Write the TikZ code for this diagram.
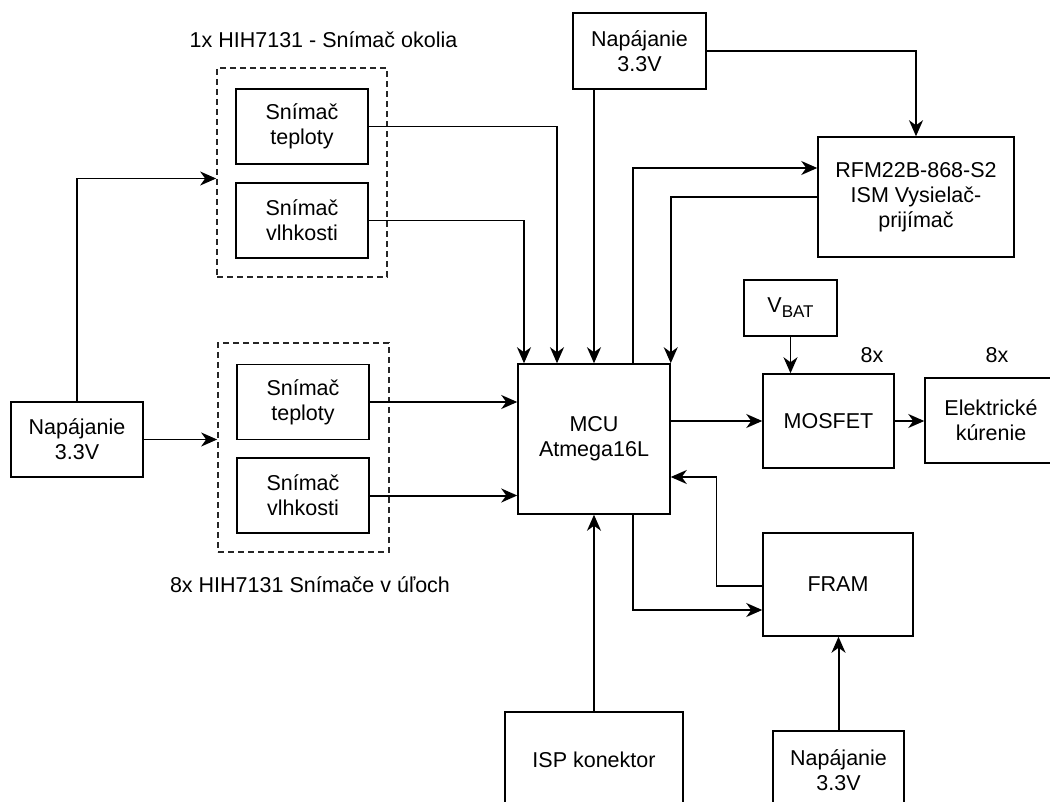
\documentclass[tikz,border=0pt]{standalone}
\usepackage{fontspec}
\setmainfont{Liberation Sans}
\usetikzlibrary{arrows.meta}
\tikzset{
  blok/.style = {draw=black, line width=1.5pt, rectangle, align=center,
    inner sep=0pt, font=\fontsize{21.5}{25}\selectfont},
  blok_s/.style = {blok, minimum width=132pt, minimum height=75pt},% snimac
  blok_g/.style = {draw=black!85, line width=1.7pt, dash pattern=on 6pt off 4pt,
    minimum width=170pt, minimum height=209pt},% skupina snimacov
  popis/.style = {inner sep=0pt, font=\fontsize{21.5}{25}\selectfont}% popis
}

\begin{document}
\begin{tikzpicture}[x=1pt,y=-1pt,line width=1.5pt,
  >={Stealth[length=16pt,width=14pt,inset=5pt]}]
\useasboundingbox (0,0) rectangle (1050,802);
\begin{scope}
\clip (0,0) rectangle (1050,802);
% bloky
\node [blok, minimum width=133pt, minimum height=76pt] (pwrTop) at (639.5,51) {Napájanie\\3.3V};
\node [blok, minimum width=196pt, minimum height=120pt] (rfm) at (916,197) {RFM22B-868-S2\\ISM Vysielač-\\prijímač};
\node [blok_g] (grpTop) at (302,172.5) {};
\node [blok_s] (tempTop) at (302,126.5) {Snímač\\teploty};
\node [blok_s] (humTop) at (302,220.5) {Snímač\\vlhkosti};
\node [blok_g, minimum width=171pt] (grpBot) at (303.5,447.5) {};
\node [blok_s] (tempBot) at (303,402) {Snímač\\teploty};
\node [blok_s] (humBot) at (303,495.5) {Snímač\\vlhkosti};
\node [blok_s] (pwrLeft) at (77,439.5) {Napájanie\\3.3V};
\node [blok, minimum width=152pt, minimum height=150pt] (mcu) at (594,439) {MCU\\Atmega16L};
\node [blok, minimum width=93pt, minimum height=56pt] (vbat) at (790.5,308)
  {V\raisebox{-5pt}{\fontsize{17}{20}\selectfont BAT}};
\node [blok, minimum width=131pt, minimum height=94pt] (mosfet) at (828.5,421) {MOSFET};
\node [blok, minimum width=132pt, minimum height=85pt] (heat) at (991,420.5) {Elektrické\\kúrenie};
\node [blok, minimum width=150pt, minimum height=103pt] (fram) at (838,584.5) {FRAM};
\node [blok, minimum width=178pt, minimum height=96pt] (isp) at (594,760) {ISP konektor};
\node [blok, minimum width=131pt, minimum height=78pt] (pwrBot) at (838.5,770) {Napájanie\\3.3V};
% popisy
\node [popis] (lblTop) at (323.5,40) {1x HIH7131 - Snímač okolia};
\node [popis] (lblBot) at (310,585) {8x HIH7131 Snímače v úľoch};
\node [popis] (lblMos) at (872,355) {8x};
\node [popis] (lblHeat) at (997,355) {8x};
% spoje
\draw [->] (mcu.north |- pwrTop.south) -- (mcu.north);
\draw [->] (pwrTop.east) -| (rfm.north);
\draw [->] (tempTop.east) -| ([xshift=-37pt]mcu.north);
\draw [->] (humTop.east) -| ([xshift=-70pt]mcu.north);
\draw [->] ([xshift=39pt]mcu.north) |- ([yshift=29pt]rfm.west);
\draw [->] (rfm.west) -| (mcu.north east);
\draw [->] (pwrLeft.north) |- ([yshift=-6pt]grpTop.west);
\draw [->] (pwrLeft.east) -- (pwrLeft.east -| grpBot.west);
\draw [->] (tempBot.east) -- (tempBot.east -| mcu.west);
\draw [->, line width=2pt] (humBot.east) -- (humBot.east -| mcu.west);
\draw [->] (mcu.east |- mosfet.west) -- (mosfet.west);
\draw [->] (vbat.south) -- (vbat.south |- mosfet.north);
\draw [->] (mosfet.east) -- (mosfet.east -| heat.west);
\draw [->] ([yshift=-1.5pt]fram.west) -- ++(-46,0) |- ([yshift=-38pt]mcu.east);
\draw [->] ([xshift=39pt]mcu.south) |- ([yshift=-25.5pt]fram.west);
\draw [->] (isp.north) -- (mcu.south);
\draw [->, line width=2pt] (pwrBot.north) -- (pwrBot.north |- fram.south);
\end{scope}
\end{tikzpicture}
\end{document}
